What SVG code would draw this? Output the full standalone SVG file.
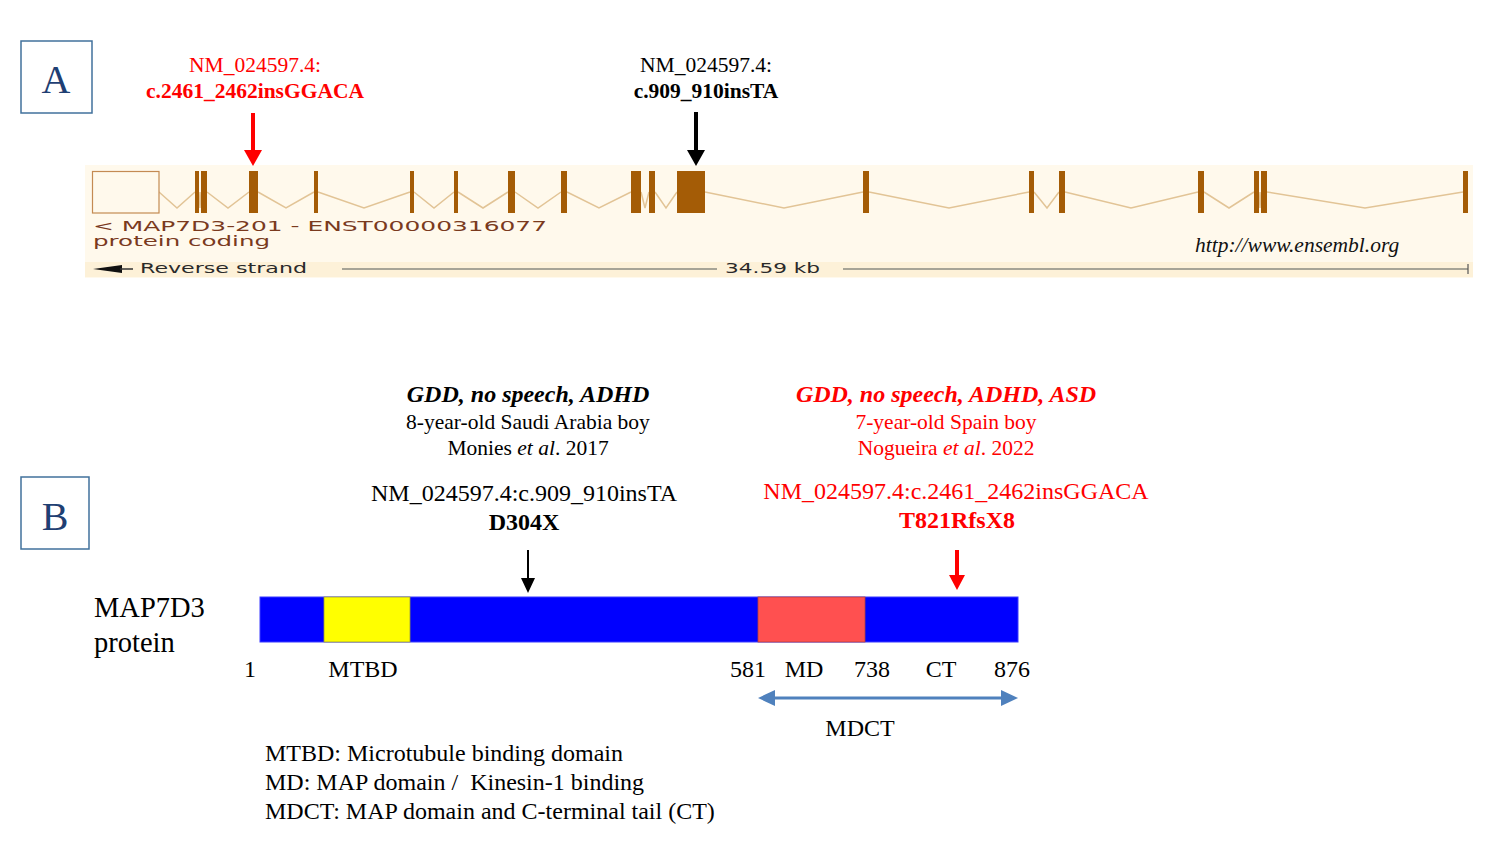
<svg xmlns="http://www.w3.org/2000/svg" width="1499" height="856" viewBox="0 0 1499 856">
<style>
.t{font-family:"Liberation Serif","Times New Roman",serif;}
.b{font-weight:bold;}
.i{font-style:italic;}
.red{fill:#FF0000;}
.blk{fill:#000;}
.ens{font-family:"DejaVu Sans",Verdana,sans-serif;font-size:14px;fill:#7A3A1E;}
.ens2{font-family:"DejaVu Sans",Verdana,sans-serif;font-size:13.5px;fill:#2a2a2a;}
.exon{fill:#A45C06;}
.intron{fill:none;stroke:#E2C496;stroke-width:1.5;}
.lbl{font-size:24px;}
.panel{fill:#fff;stroke:#41719C;stroke-width:1.5;}
.plet{font-family:"Liberation Serif","Times New Roman",serif;font-size:40px;fill:#1F3F73;}
</style>
<rect width="1499" height="856" fill="#ffffff"/>

<g id="panelA">
<rect class="panel" x="21" y="41" width="71" height="72"/>
<text class="plet" x="56" y="93" text-anchor="middle">A</text>
</g>

<g id="ensembl">
<rect x="85" y="165" width="1388" height="113" fill="#FFF9EC"/>
<rect x="85" y="262" width="1388" height="15" fill="#FDF1D8"/>
<polyline class="intron" points="159,192 177,208 195,192"/>
<polyline class="intron" points="199,192 200,208 201,192"/>
<polyline class="intron" points="207,192 228,208 249,192"/>
<polyline class="intron" points="258,192 286,208 314,192"/>
<polyline class="intron" points="318,192 364,208 410,192"/>
<polyline class="intron" points="414,192 434,208 454,192"/>
<polyline class="intron" points="458,192 483,208 508,192"/>
<polyline class="intron" points="515,192 538,208 561,192"/>
<polyline class="intron" points="567,192 599,208 631,192"/>
<polyline class="intron" points="641,192 645,208 649,192"/>
<polyline class="intron" points="655,192 666,208 677,192"/>
<polyline class="intron" points="705,192 784,208 863,192"/>
<polyline class="intron" points="869,192 949,208 1029,192"/>
<polyline class="intron" points="1034,192 1047,208 1059,192"/>
<polyline class="intron" points="1065,192 1131,208 1198,192"/>
<polyline class="intron" points="1204,192 1229,208 1254,192"/>
<polyline class="intron" points="1259,192 1260,208 1261,192"/>
<polyline class="intron" points="1267,192 1365,208 1463,192"/>
<rect x="92.5" y="171.5" width="66.5" height="41.5" fill="#FFF9EC" stroke="#C48A52" stroke-width="1.2"/>
<rect class="exon" x="195" y="171" width="4" height="42"/>
<rect class="exon" x="201" y="171" width="6" height="42"/>
<rect class="exon" x="249" y="171" width="9" height="42"/>
<rect class="exon" x="314" y="171" width="4" height="42"/>
<rect class="exon" x="410" y="171" width="4" height="42"/>
<rect class="exon" x="454" y="171" width="4" height="42"/>
<rect class="exon" x="508" y="171" width="7" height="42"/>
<rect class="exon" x="561" y="171" width="6" height="42"/>
<rect class="exon" x="631" y="171" width="10" height="42"/>
<rect class="exon" x="649" y="171" width="6" height="42"/>
<rect class="exon" x="677" y="171" width="28" height="42"/>
<rect class="exon" x="863" y="171" width="6" height="42"/>
<rect class="exon" x="1029" y="171" width="5" height="42"/>
<rect class="exon" x="1059" y="171" width="6" height="42"/>
<rect class="exon" x="1198" y="171" width="6" height="42"/>
<rect class="exon" x="1254" y="171" width="5" height="42"/>
<rect class="exon" x="1261" y="171" width="6" height="42"/>
<rect class="exon" x="1463" y="171" width="5" height="42"/>
<text class="ens" x="93" y="230.5" textLength="454" lengthAdjust="spacingAndGlyphs">&lt; MAP7D3-201 - ENST00000316077</text>
<text class="ens" x="93" y="245.5" textLength="177" lengthAdjust="spacingAndGlyphs">protein coding</text>
<polygon points="93,269 122,265 122,273" fill="#111"/>
<line x1="120" y1="269" x2="133" y2="269" stroke="#333" stroke-width="1.5"/>
<text class="ens2" x="140" y="273" textLength="167" lengthAdjust="spacingAndGlyphs">Reverse strand</text>
<line x1="342" y1="269" x2="717" y2="269" stroke="#8a8a80" stroke-width="1.5"/>
<text class="ens2" x="725" y="273" textLength="95" lengthAdjust="spacingAndGlyphs">34.59 kb</text>
<line x1="843" y1="269" x2="1468" y2="269" stroke="#8a8a80" stroke-width="1.5"/>
<line x1="1468" y1="264" x2="1468" y2="274" stroke="#555" stroke-width="1.2"/>
<text class="t i" x="1195" y="252" font-size="21.5" fill="#111">http://www.ensembl.org</text>
</g>

<g id="variantA1">
<text class="t red" x="255" y="72" font-size="21.5" text-anchor="middle">NM_024597.4:</text>
<text class="t b red" x="255" y="98" font-size="21.5" text-anchor="middle">c.2461_2462insGGACA</text>
</g>
<g id="variantA2">
<text class="t blk" x="706" y="72" font-size="21.5" text-anchor="middle">NM_024597.4:</text>
<text class="t b blk" x="706" y="98" font-size="21.5" text-anchor="middle">c.909_910insTA</text>
</g>

<g id="panelB">
<rect class="panel" x="21" y="477" width="68" height="72"/>
<text class="plet" x="55" y="530" text-anchor="middle">B</text>
</g>

<g id="case1">
<text class="t b i blk" x="528" y="402" font-size="24" text-anchor="middle">GDD, no speech, ADHD</text>
<text class="t blk" x="528" y="429" font-size="21.5" text-anchor="middle">8-year-old Saudi Arabia boy</text>
<text class="t blk" x="528" y="455" font-size="21.5" text-anchor="middle">Monies <tspan font-style="italic">et al</tspan>. 2017</text>
<text class="t blk" x="524" y="501" font-size="24" text-anchor="middle">NM_024597.4:c.909_910insTA</text>
<text class="t b blk" x="524" y="530" font-size="24" text-anchor="middle">D304X</text>
</g>
<g id="case2">
<text class="t b i red" x="946" y="402" font-size="24" text-anchor="middle">GDD, no speech, ADHD, ASD</text>
<text class="t red" x="946" y="429" font-size="21.5" text-anchor="middle">7-year-old Spain boy</text>
<text class="t red" x="946" y="455" font-size="21.5" text-anchor="middle">Nogueira <tspan font-style="italic">et al</tspan>. 2022</text>
<text class="t red" x="956" y="499" font-size="24" text-anchor="middle">NM_024597.4:c.2461_2462insGGACA</text>
<text class="t b red" x="957" y="528" font-size="24" text-anchor="middle">T821RfsX8</text>
</g>

<g id="protein">
<text class="t blk" x="94" y="617" font-size="28.5">MAP7D3</text>
<text class="t blk" x="94" y="652" font-size="28.5">protein</text>
<rect x="260" y="597" width="758" height="45" fill="#0000FF" stroke="#3a3aff" stroke-width="1"/>
<rect x="324" y="597" width="86" height="45" fill="#FFFF00" stroke="#9a9a40" stroke-width="0.8"/>
<rect x="758" y="597" width="107" height="45" fill="#FF5050" stroke="#b04040" stroke-width="0.8"/>
</g>

<g id="positions">
<text class="t lbl blk" x="250" y="677" text-anchor="middle">1</text>
<text class="t lbl blk" x="363" y="677" text-anchor="middle">MTBD</text>
<text class="t lbl blk" x="748" y="677" text-anchor="middle">581</text>
<text class="t lbl blk" x="804" y="677" text-anchor="middle">MD</text>
<text class="t lbl blk" x="872" y="677" text-anchor="middle">738</text>
<text class="t lbl blk" x="941" y="677" text-anchor="middle">CT</text>
<text class="t lbl blk" x="1012" y="677" text-anchor="middle">876</text>
<text class="t lbl blk" x="860" y="736" text-anchor="middle">MDCT</text>
</g>

<g id="legend">
<text class="t lbl blk" x="265" y="761">MTBD: Microtubule binding domain</text>
<text class="t lbl blk" x="265" y="790" xml:space="preserve">MD: MAP domain /  Kinesin-1 binding</text>
<text class="t lbl blk" x="265" y="819">MDCT: MAP domain and C-terminal tail (CT)</text>
</g>

<g id="connectors">
<line x1="253" y1="113" x2="253" y2="151" stroke="#FF0000" stroke-width="4"/>
<polygon points="244,150 262,150 253,166" fill="#FF0000"/>
<line x1="696" y1="112" x2="696" y2="151" stroke="#000" stroke-width="4"/>
<polygon points="687,150 705,150 696,166" fill="#000"/>
<line x1="528" y1="550" x2="528" y2="580" stroke="#000" stroke-width="2"/>
<polygon points="521,578 535,578 528,593" fill="#000"/>
<line x1="957" y1="550" x2="957" y2="577" stroke="#FF0000" stroke-width="4"/>
<polygon points="949,575 965,575 957,590" fill="#FF0000"/>
<line x1="772" y1="698" x2="1004" y2="698" stroke="#4F81BD" stroke-width="3"/>
<polygon points="758,698 775,690 775,706" fill="#4F81BD"/>
<polygon points="1018,698 1001,690 1001,706" fill="#4F81BD"/>
</g>
</svg>
